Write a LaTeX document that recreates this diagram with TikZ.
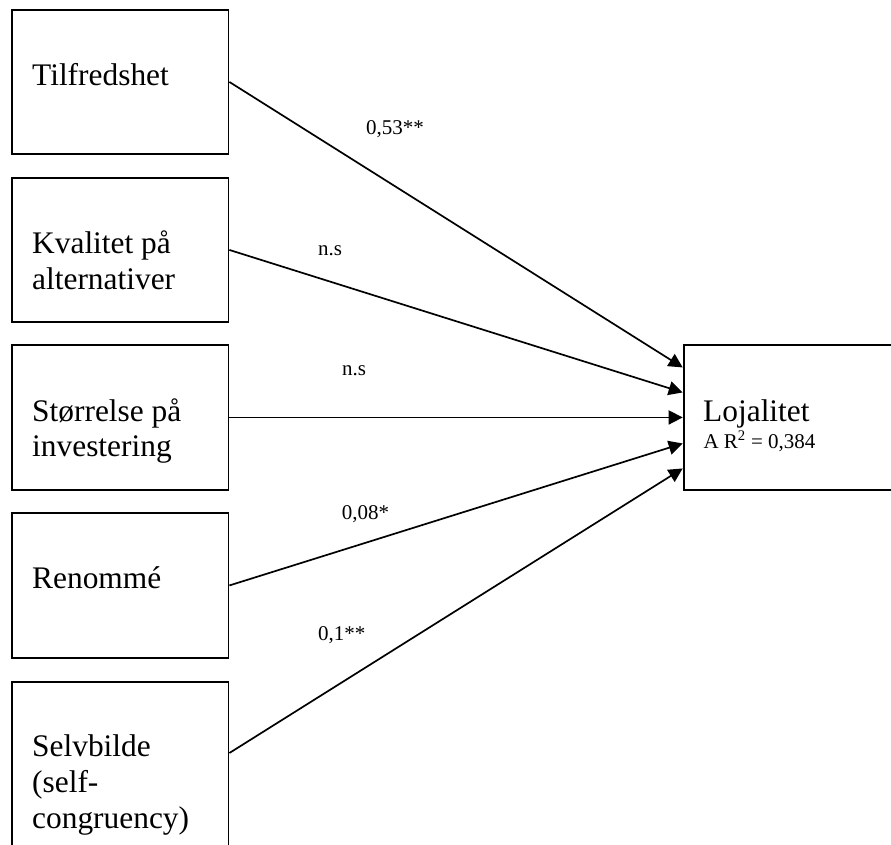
\documentclass[tikz,border=0pt]{standalone}
\usepackage{fontspec}
\setmainfont{Liberation Serif}
\usetikzlibrary{arrows.meta}
\tikzset{
  box/.style={draw=black, line width=1.9pt, rectangle, inner sep=0pt, anchor=north west, minimum width=216.5pt},
  boxtxt/.style={anchor=base west, inner sep=0pt, font=\fontsize{31.4}{36}\selectfont},
  smalltxt/.style={anchor=base west, inner sep=0pt, font=\fontsize{21}{24}\selectfont},
  arr/.style={draw=black, line width=1.7pt, -{Triangle[length=14pt,width=14pt]}}
}
\begin{document}
\begin{tikzpicture}[x=1pt,y=-1pt]
\useasboundingbox (0,0) rectangle (891,845);
% left boxes
\node[box, minimum height=144pt] (b1) at (11,9) {};
\node[box, minimum height=144pt] (b2) at (11,177) {};
\node[box, minimum height=145pt] (b3) at (11,344) {};
\node[box, minimum height=145pt] (b4) at (11,512) {};
\node[box, minimum height=200pt] (b5) at (11,681) {};
% right box
\node[box, minimum width=230pt, minimum height=145pt] (L) at (682.7,344) {};
% box texts
\node[boxtxt] (t1) at (32,86) {Tilfredshet};
\node[boxtxt] (t2a) at (32,253) {Kvalitet på};
\node[boxtxt] (t2b) at (32,289) {alternativer};
\node[boxtxt] (t3a) at (32,421) {Størrelse på};
\node[boxtxt] (t3b) at (32,456) {investering};
\node[boxtxt] (t4) at (32,588) {Renommé};
\node[boxtxt] (t5a) at (32,756.5) {Selvbilde};
\node[boxtxt] (t5b) at (32,792) {(self-};
\node[boxtxt] (t5c) at (32,828) {congruency)};
\node[boxtxt] (tL) at (703,421) {Lojalitet};
\node[smalltxt] (tR) at (703.3,448.5) {A R\textsuperscript{2} = 0,384};
% connectors
\draw[arr] (b1.east) -- ([yshift=50pt]L.west);
\draw[arr] (b2.east) -- ([yshift=25pt]L.west);
\draw[arr] (b3.east) -- (L.west);
\draw[arr] (b4.east) -- ([yshift=-26pt]L.west);
\draw[arr] ([yshift=-72pt]b5.north east) -- ([yshift=-51pt]L.west);
% path labels
\node[smalltxt] (l1) at (366,135) {0,53**};
\node[smalltxt] (l2) at (318,255) {n.s};
\node[smalltxt] (l3) at (342,375) {n.s};
\node[smalltxt] (l4) at (341.7,519) {0,08*};
\node[smalltxt] (l5) at (318,640) {0,1**};
\end{tikzpicture}
\end{document}
